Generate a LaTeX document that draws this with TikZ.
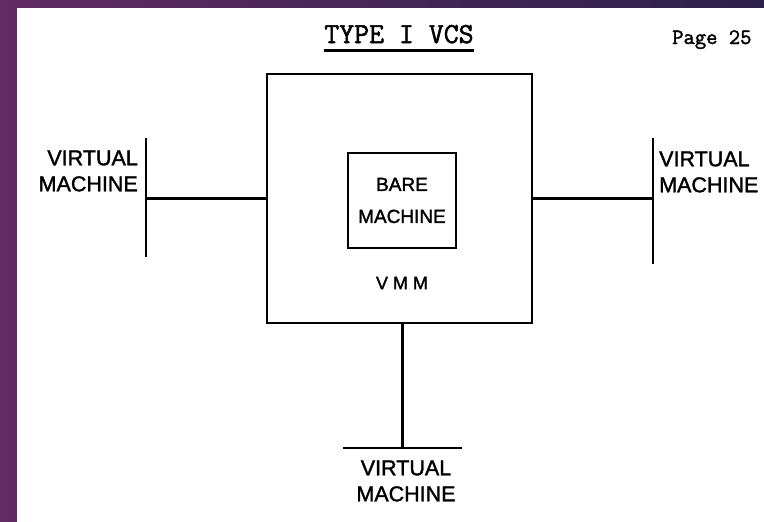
\documentclass[tikz,border=0pt]{standalone}
\usepackage{fontspec}
\newfontfamily\labelfont{Liberation Sans}[FakeBold=1.6]
\newfontfamily\typefont{Latin Modern Mono}[FakeBold=1.8]
\usetikzlibrary{positioning}
\definecolor{slideleft}{RGB}{97,43,99}
\definecolor{slideright}{RGB}{43,33,75}
\tikzset{
  outer/.style   = {draw, line width=2.6pt, minimum width=265pt, minimum height=249pt, inner sep=0pt},
  inner/.style   = {draw, line width=2.6pt, minimum width=108pt, minimum height=95pt, inner sep=0pt, align=center, font=\labelfont\fontsize{19}{32}\selectfont},
  vm-bar/.style  = {fill=black, inner sep=0pt},
  vm-label/.style = {inner sep=0pt, font=\labelfont\fontsize{21.5}{26}\selectfont},
  heading/.style = {inner xsep=0pt, inner ysep=7pt, font=\typefont\fontsize{29}{32}\selectfont},
  link/.style    = {line width=2.6pt}
}

\begin{document}
\begin{tikzpicture}[x=1pt, y=-1pt]
    \useasboundingbox (0,0) rectangle (764,522);
    \shade[left color=slideleft, right color=slideright] (0,0) rectangle (764,522);
    \fill[white] (17,8) rectangle (764,522);

    \node[heading, anchor=base] (title) at (399,43) {TYPE I VCS};
    \draw[line width=2.4pt] (title.south west) -- (title.south east);
    \node[anchor=base west, inner sep=0pt, font=\typefont\fontsize{22}{24}\selectfont] (page) at (672,44) {Page 25};

    \node[outer] (vmm) at (399.5,198.5) {};
    \node[inner] (bare) at (402,200.5) {BARE\\MACHINE};
    \node[inner sep=0pt, font=\labelfont\fontsize{18}{20}\selectfont] (vmm-name) at (402,283) {V M M};

    \node[vm-bar, minimum width=2.8pt, minimum height=119pt] (lbar) at (146,197.5) {};
    \node[vm-bar, minimum width=2.8pt, minimum height=126pt] (rbar) at (653,201) {};
    \node[vm-bar, minimum width=119pt, minimum height=2.8pt] (bbar) at (402.5,448) {};

    \draw[link] (vmm.west) -- (vmm.west -| lbar.center);
    \draw[link] (vmm.east) -- (vmm.east -| rbar.center);
    \draw[link] (vmm.south -| bbar.center) -- (bbar.center);

    \node[vm-label, align=right, anchor=east] (lname) at (138,171) {VIRTUAL\\MACHINE};
    \node[vm-label, align=left, anchor=west] (rname) at (659,172) {VIRTUAL\\MACHINE};
    \node[vm-label, align=center] (bname) at (406,481) {VIRTUAL\\MACHINE};
\end{tikzpicture}
\end{document}
